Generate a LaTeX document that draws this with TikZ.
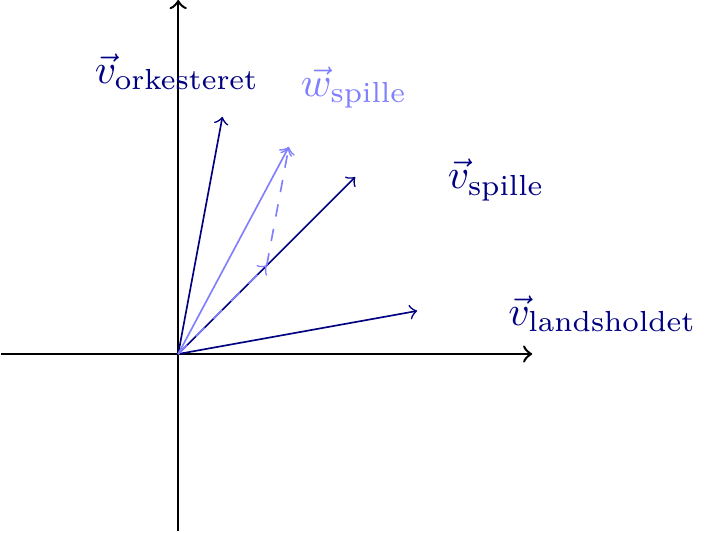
\documentclass[tikz,border=0pt]{standalone}
\usepackage{amsmath}
\usetikzlibrary{calc}
\begin{document}
\begin{tikzpicture}[x=5mm,y=5mm,>=to,
  axis/.style={->,semithick},
  vec/.style={->,blue!50!black},
  wvec/.style={->,blue!50}]
  \useasboundingbox (-3.02,-3.03) rectangle (9.03,6);
  % axes
  \coordinate (O) at (0,0);
  \coordinate (xmin) at (-3,0);
  \coordinate (xmax) at (6,0);
  \coordinate (ymin) at (0,-3);
  \coordinate (ymax) at (0,6);
  \draw[axis] (xmin)--(xmax);
  \draw[axis] (ymin)--(ymax);
  % word vectors
  \coordinate (land) at (4.05,0.73);
  \coordinate (spil) at (3,3);
  \coordinate (orke) at (0.75,4.02);
  \foreach \t in {land,spil,orke}{\draw[vec] (O)--(\t);}
  % w = half spille + half orkesteret
  \coordinate (half) at ($.5*(spil)$);
  \coordinate (w) at ($.5*(spil)+.5*(orke)$);
  \draw[wvec] (O)--(w);
  \draw[wvec,dashed] (O)--(half);
  \draw[wvec,dashed] (half)--(w);
  % labels
  \node[blue!50!black] (lland) at (7.19,0.68) {$\vec{v}_{\text{landsholdet}}$};
  \node[blue!50!black] (lspil) at (5.39,2.95) {$\vec{v}_{\text{spille}}$};
  \node[blue!50!black] (lorke) at (-0.02,4.78) {$\vec{v}_{\text{orkesteret}}$};
  \node[blue!50] (lw) at (2.98,4.52) {$\vec{w}_{\text{spille}}$};
\end{tikzpicture}
\end{document}
